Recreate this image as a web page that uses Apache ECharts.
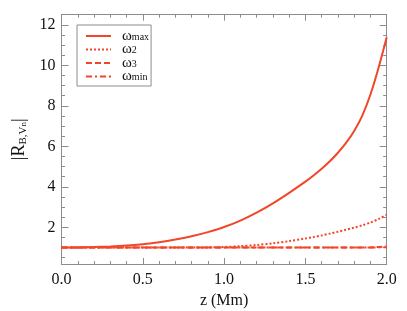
<!DOCTYPE html>
<html><head><meta charset="utf-8">
<script src="https://cdn.jsdelivr.net/npm/echarts@6/dist/echarts.min.js"></script>
<style>html,body{margin:0;padding:0;background:#fff}#c{width:407px;height:311px}</style>
</head><body><div id="c"></div>
<script>
const zValues = [0,0.1,0.2,0.3,0.4,0.5,0.6,0.7,0.8,0.9,1.0,1.1,1.2,1.3,1.4,1.5,1.55,1.6,1.65,1.7,1.75,1.8,1.85,1.9,1.95,2.0];
const wMax = [1.00,1.005,1.025,1.055,1.10,1.17,1.265,1.395,1.56,1.765,2.015,2.335,2.725,3.185,3.705,4.255,4.56,4.89,5.26,5.685,6.17,6.76,7.52,8.56,9.885,11.385];
const w2   = [1.00,1.00,1.00,1.00,1.00,1.00,1.00,1.00,1.00,1.01,1.03,1.07,1.13,1.21,1.32,1.45,1.52,1.60,1.69,1.78,1.88,1.98,2.10,2.24,2.41,2.62];
const w3   = [1.00,1.00,1.00,1.00,1.00,1.00,1.00,1.00,1.00,1.00,1.00,1.00,1.00,1.00,1.00,1.00,1.00,1.00,1.00,1.00,1.00,1.00,1.00,1.01,1.03,1.07];
const wMin = [1.00,1.00,1.00,1.00,1.00,1.00,1.00,1.00,1.00,1.00,1.00,1.00,1.00,1.00,1.00,1.00,1.00,1.00,1.00,1.00,1.00,1.00,1.00,1.00,1.01,1.02];
const seriesNames = ['ωmax','ω2','ω3','ωmin'];
const legendSubs = ['max','2','3','min'];
const yLabels = [2,4,6,8,10,12];
const yMinor = [0.5,1,1.5,2.5,3,3.5,4.5,5,5.5,6.5,7,7.5,8.5,9,9.5,10.5,11,11.5,12.5];

const SERIF = '"Liberation Serif","DejaVu Serif",serif';
const AX = '#8c8c8c';
const RED = '#f2462a';
const Y_MIN = 0.19, Y_MAX = 12.5;

function pairs(v){ return zValues.map((z,i)=>[z,v[i]]); }

const chart = echarts.init(document.getElementById('c'), null, {renderer:'canvas'});

function xAx(pos, showLabel){
  return {
    type:'value', position:pos, min:0, max:2, interval:0.5,
    axisLine:{show:true, lineStyle:{color:AX, width:1}},
    axisTick:{show:true, inside:true, length:6, lineStyle:{color:AX}},
    minorTick:{show:true, splitNumber:5, length:3, lineStyle:{color:AX}},
    splitLine:{show:false}, minorSplitLine:{show:false},
    axisLabel:{show:showLabel, color:'#111', fontFamily:SERIF, fontSize:16, margin:8,
      formatter:v=>v.toFixed(1)},
    name: showLabel ? 'z (Mm)' : '', nameLocation:'middle', nameGap:28,
    nameTextStyle:{color:'#111', fontFamily:SERIF, fontSize:16}
  };
}
function yAx(pos, major, showLabel){
  const o = {
    type:'value', position:pos, min:Y_MIN, max:Y_MAX,
    axisLine:{show:major, lineStyle:{color:AX, width:1}},
    axisTick:{show:true, inside:true, length: major?7:3.5, lineStyle:{color:AX},
      customValues: major ? yLabels : yMinor},
    splitLine:{show:false},
    axisLabel:{show:showLabel, color:'#111', fontFamily:SERIF, fontSize:16, margin:6,
      customValues: yLabels}
  };
  if (showLabel) {
    o.name = '{m||R}{s|B,V}{ss|n}{m||}';
    o.nameLocation = 'middle';
    o.nameGap = 30;
    o.nameRotate = 90;
    o.nameTextStyle = {
      color:'#111', fontFamily:SERIF,
      rich:{
        m:{fontFamily:SERIF, fontSize:18, color:'#111'},
        s:{fontFamily:SERIF, fontSize:11, color:'#111', verticalAlign:'bottom', padding:[7,0,0,0]},
        ss:{fontFamily:SERIF, fontSize:9, color:'#111', verticalAlign:'bottom', padding:[10,0,0,0]}
      }
    };
  }
  return o;
}

const styles = [
  {type:'solid', width:2},
  {type:[2,2], width:2},
  {type:[6,3], width:2},
  {type:[6,3,2,3], width:2}
];
const dataSets = [wMax, w2, w3, wMin];

chart.setOption({
  animation:false,
  backgroundColor:'#fff',
  grid:{left:61.5, right:20.3, top:14.7, bottom:47, containLabel:false, outerBoundsMode:'none'},
  xAxis:[xAx('bottom', true), xAx('top', false)],
  yAxis:[yAx('left', true, true), yAx('left', false, false), yAx('right', true, false), yAx('right', false, false)],
  legend:{
    left:77, top:25, orient:'vertical', padding:[2,2,2,8],
    borderColor:AX, borderWidth:1, itemWidth:25, itemHeight:10, itemGap:-3,
    itemStyle:{opacity:0, borderWidth:0},
    data: seriesNames,
    formatter: name => '{w|ω}{s|' + legendSubs[seriesNames.indexOf(name)] + '}',
    textStyle:{
      padding:[0,0,0,6],
      rich:{
        w:{fontFamily:SERIF, fontSize:15, color:'#111', lineHeight:12},
        s:{fontFamily:SERIF, fontSize:10, color:'#111', verticalAlign:'bottom', lineHeight:12, padding:[5,0,0,0]}
      }
    }
  },
  series: dataSets.map((d,i)=>({
    name: seriesNames[i], type:'line', xAxisIndex:0, yAxisIndex:0,
    data: pairs(d), symbol:'none', smooth:0.3,
    lineStyle:Object.assign({color:RED}, styles[i]), itemStyle:{color:RED}
  }))
});
</script></body></html>
